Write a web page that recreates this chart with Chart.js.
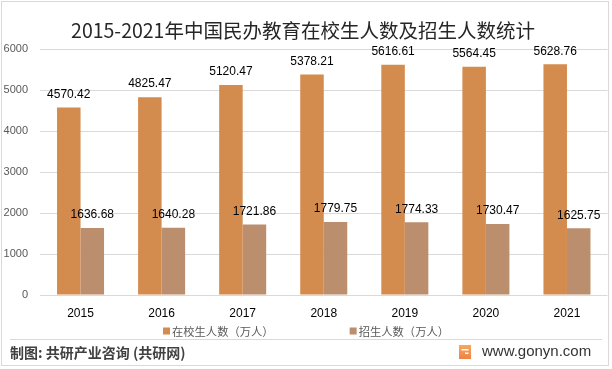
<!DOCTYPE html>
<html>
<head>
<meta charset="utf-8">
<script src="https://cdn.jsdelivr.net/npm/chart.js@4/dist/chart.umd.min.js"></script>
<style>
  html, body { margin: 0; padding: 0; background: #fff; }
  #wrap { width: 612px; height: 369px; position: relative; }
</style>
</head>
<body>
<div id="wrap"><canvas id="chart"></canvas></div>
<script>
// 数据
const years = ['2015', '2016', '2017', '2018', '2019', '2020', '2021'];
const enrolled = [4570.42, 4825.47, 5120.47, 5378.21, 5616.61, 5564.45, 5628.76];
const admitted = [1636.68, 1640.28, 1721.86, 1779.75, 1774.33, 1730.47, 1625.75];
const seriesNames = ['在校生人数（万人）', '招生人数（万人）'];
const yTicks = [0, 1000, 2000, 3000, 4000, 5000, 6000];

const titleText = '2015-2021年中国民办教育在校生人数及招生人数统计';
const sourceText = '制图: 共研产业咨询 (共研网)';
const siteText = 'www.gonyn.com';

const cjk = '"Noto Sans CJK SC", "Noto Sans", sans-serif';
const latin = '"Liberation Sans", Arial, sans-serif';

// 标题、数值标签、图例、底部来源
const decorPlugin = {
    id: 'decor',
    afterDraw(chart) {
        const ctx = chart.ctx;
        ctx.save();

        // 外边框
        ctx.strokeStyle = '#d9d9d9';
        ctx.lineWidth = 1;
        ctx.strokeRect(1.5, 1.5, 607, 364);

        // 标题
        ctx.fillStyle = '#262626';
        ctx.font = '19.5px ' + cjk;
        ctx.textAlign = 'center';
        ctx.textBaseline = 'middle';
        ctx.fillText(titleText, 303, 31);

        // 柱顶数值
        ctx.font = '12px ' + latin;
        ctx.fillStyle = '#000';
        ctx.textBaseline = 'bottom';
        chart.data.datasets.forEach((ds, i) => {
            chart.getDatasetMeta(i).data.forEach((bar, j) => {
                ctx.fillText(ds.data[j].toFixed(2), bar.x, bar.y - 7);
            });
        });

        // 图例
        ctx.font = '11.3px ' + cjk;
        ctx.textBaseline = 'middle';
        ctx.textAlign = 'left';
        const box = 7, gap = 2, itemGap = 76, ly = 331;
        const widths = chart.data.datasets.map(ds => ctx.measureText(ds.label).width);
        let total = widths.reduce((a, w) => a + box + gap + w, 0) + itemGap * (widths.length - 1);
        let x = 306 - total / 2;
        chart.data.datasets.forEach((ds, i) => {
            ctx.fillStyle = ds.backgroundColor;
            ctx.fillRect(x, ly - box / 2, box, box);
            ctx.fillStyle = '#595959';
            ctx.fillText(ds.label, x + box + gap, ly + 0.5);
            x += box + gap + widths[i] + itemGap;
        });

        // 分隔线
        ctx.strokeStyle = '#d9d9d9';
        ctx.beginPath();
        ctx.moveTo(10, 339.5);
        ctx.lineTo(602, 339.5);
        ctx.stroke();

        // 来源
        ctx.fillStyle = '#404040';
        ctx.font = 'bold 14px ' + cjk;
        ctx.fillText(sourceText, 10, 353);

        // logo
        const grad = ctx.createLinearGradient(459, 345, 459, 360);
        grad.addColorStop(0, '#f7a85e');
        grad.addColorStop(1, '#ef7f45');
        ctx.fillStyle = grad;
        ctx.fillRect(459, 345, 12, 14);
        ctx.fillStyle = '#fff';
        ctx.fillRect(461.5, 349, 7, 1.5);
        ctx.fillRect(465, 352.5, 3.5, 1.5);

        ctx.fillStyle = '#333';
        ctx.font = '15px ' + latin;
        ctx.fillText(siteText, 482, 352);

        ctx.restore();
    }
};

new Chart(document.getElementById('chart'), {
    type: 'bar',
    data: {
        labels: years,
        datasets: [
            {
                label: seriesNames[0],
                data: enrolled,
                backgroundColor: '#d48b4e',
                categoryPercentage: 0.58,
                barPercentage: 1.0
            },
            {
                label: seriesNames[1],
                data: admitted,
                backgroundColor: '#bb8e6d',
                categoryPercentage: 0.58,
                barPercentage: 1.0
            }
        ]
    },
    options: {
        responsive: true,
        maintainAspectRatio: false,
        animation: false,
        layout: { padding: { top: 49, right: 4.5, left: 0, bottom: 0 } },
        plugins: {
            legend: { display: false },
            title: { display: false },
            tooltip: { enabled: false }
        },
        scales: {
            x: {
                grid: { display: false, drawTicks: false },
                border: { display: false },
                ticks: {
                    color: '#000',
                    font: { family: latin, size: 12 },
                    padding: 11
                },
                afterFit(scale) { scale.height = 74; }
            },
            y: {
                min: yTicks[0],
                max: yTicks[yTicks.length - 1],
                afterBuildTicks(scale) {
                    scale.ticks = yTicks.map(v => ({ value: v }));
                },
                grid: { color: '#d9d9d9', drawTicks: false },
                border: { display: false },
                ticks: {
                    color: '#595959',
                    font: { family: latin, size: 11 },
                    padding: 12,
                    callback: v => String(v)
                },
                afterFit(scale) { scale.width = 40; }
            }
        }
    },
    plugins: [decorPlugin]
});
</script>
</body>
</html>
